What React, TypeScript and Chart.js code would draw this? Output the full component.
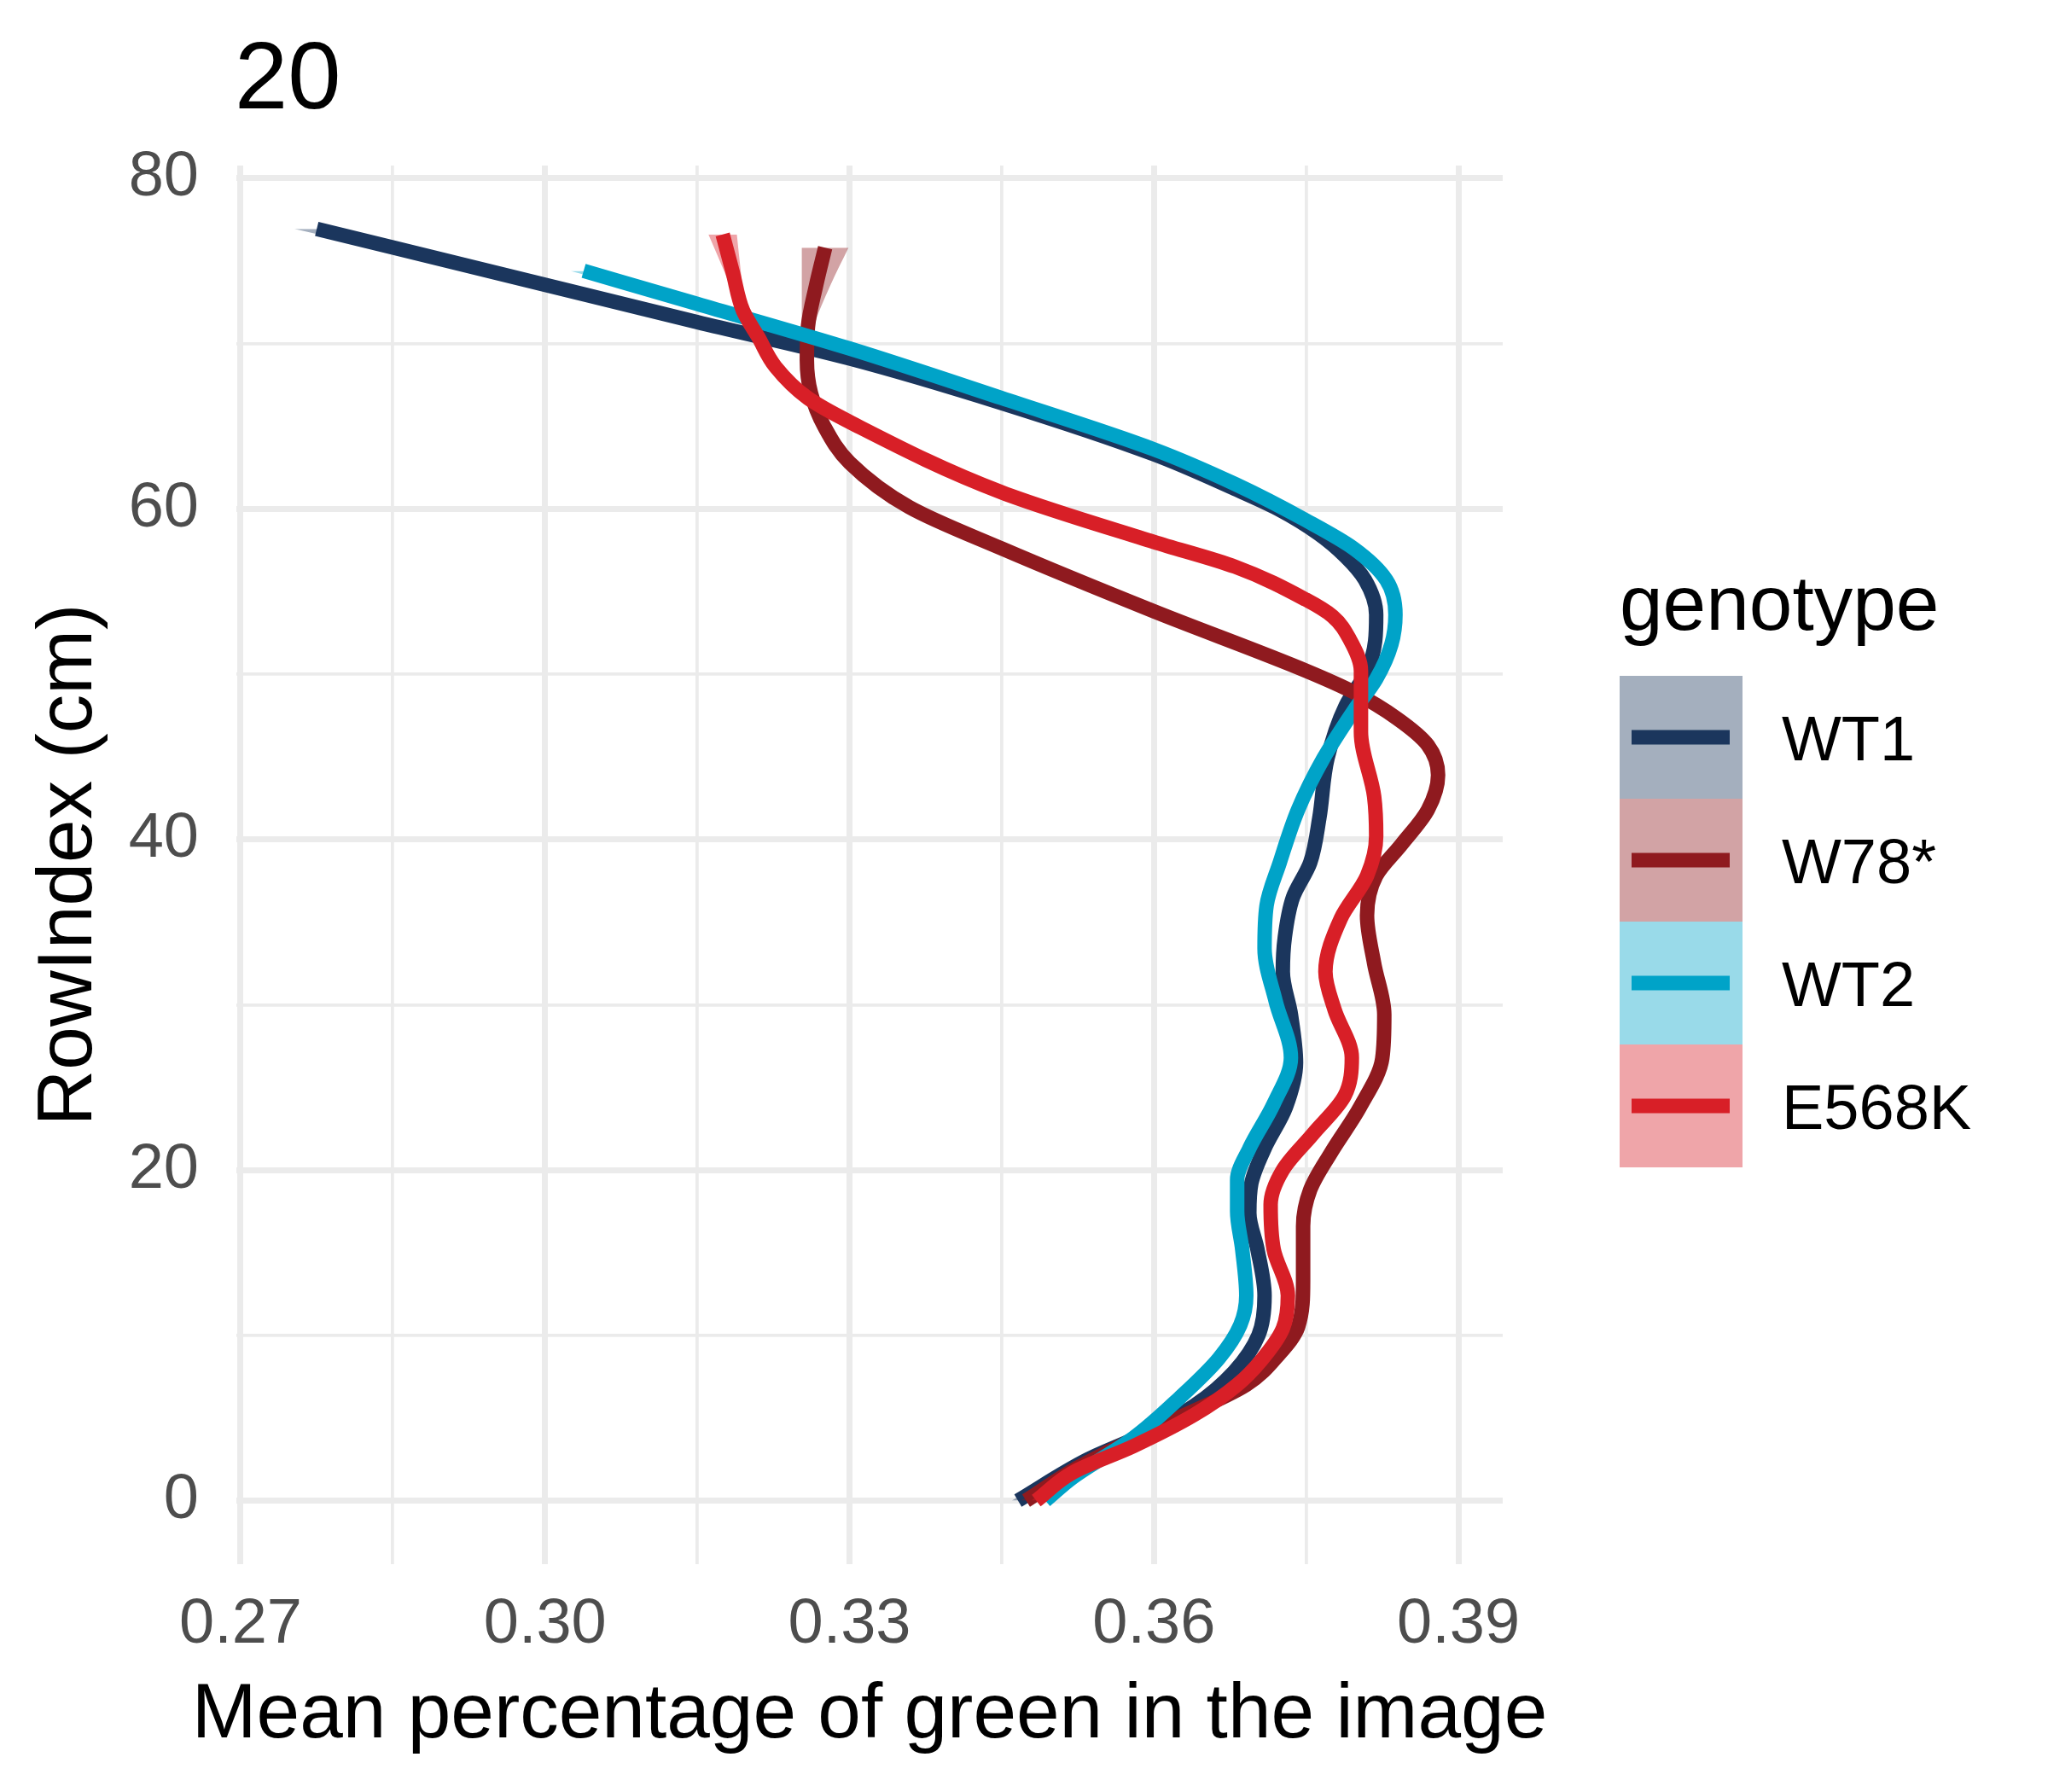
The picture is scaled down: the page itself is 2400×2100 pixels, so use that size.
import { useEffect, useRef } from 'react';
import { Chart, registerables, Plugin } from 'chart.js';

Chart.register(...registerables);

const FONT = '"Liberation Sans", Arial, sans-serif';

const panelTitle = '20';
const xTitle = 'Mean percentage of green in the image';
const yTitle = 'RowIndex (cm)';
const legendTitle = 'genotype';

const genotypes = ['WT1', 'W78*', 'WT2', 'E568K'];
const lineColors = ['#1B365D', '#8F1A1F', '#00A3C8', '#D81F27'];
const bandColors = ['rgba(27,54,93,0.4)', 'rgba(143,26,31,0.4)', 'rgba(0,163,200,0.4)', 'rgba(216,31,39,0.4)'];

// smoothed curves: RowIndex (cm), mean share of green, half-width of the confidence band
const wt1Rows = [0, 2.5, 4.0, 5.75, 7.8, 10.0, 12.4, 15.2, 17.4, 19.2, 21.3, 23.8, 26.5, 29.4, 32.0, 34.1, 36.5, 38.6, 41.3, 44.9, 48.1, 50.2, 52.0, 53.6, 55.7, 57.1, 58.5, 60.0, 61.2, 63.3, 66.4, 69.1, 71.3, 73.55, 76.94];
const wt1Mean = [0.3466, 0.3535, 0.359, 0.364, 0.3679, 0.3703, 0.3709, 0.3702, 0.3694, 0.3696, 0.3709, 0.373, 0.374, 0.3735, 0.3727, 0.3729, 0.3737, 0.3754, 0.3763, 0.3771, 0.3789, 0.381, 0.3818, 0.3819, 0.3808, 0.3789, 0.3762, 0.3722, 0.368, 0.36, 0.345, 0.33, 0.315, 0.3, 0.2775];
const wt1Se = [0.0006, 0.0003, 0.0003, 0.0003, 0.0003, 0.0003, 0.0003, 0.0003, 0.0003, 0.0003, 0.0003, 0.0003, 0.0003, 0.0003, 0.0003, 0.0003, 0.0003, 0.0003, 0.0003, 0.0003, 0.0003, 0.0003, 0.0003, 0.0003, 0.0003, 0.0003, 0.0003, 0.0003, 0.0003, 0.0003, 0.0003, 0.0003, 0.0003, 0.0005, 0.0022];

const w78Rows = [0, 2.0, 4.6, 7.0, 8.9, 10.5, 13.3, 16.6, 18.8, 21.1, 23.8, 26.75, 29.4, 32.5, 35.4, 37.8, 39.7, 41.8, 43.9, 45.7, 47.3, 48.9, 50.2, 53.8, 57.6, 60.1, 62.8, 65.0, 67.0, 69.0, 71.0, 73.5, 75.8];
const w78Mean = [0.3474, 0.3525, 0.361, 0.3691, 0.3724, 0.3742, 0.3747, 0.3747, 0.3754, 0.3775, 0.3803, 0.3825, 0.3827, 0.3817, 0.381, 0.3819, 0.3844, 0.387, 0.388, 0.387, 0.384, 0.3797, 0.375, 0.36, 0.345, 0.3359, 0.33, 0.3275, 0.3262, 0.3258, 0.3259, 0.3267, 0.3276];
const w78Se = [0.0005, 0.0003, 0.0003, 0.0003, 0.0003, 0.0003, 0.0003, 0.0003, 0.0003, 0.0003, 0.0003, 0.0003, 0.0003, 0.0003, 0.0003, 0.0003, 0.0003, 0.0003, 0.0003, 0.0003, 0.0003, 0.0003, 0.0003, 0.0003, 0.0003, 0.0003, 0.0003, 0.0003, 0.0003, 0.0003, 0.0006, 0.0014, 0.0023];

const wt2Rows = [0, 1.4, 3.8, 6.2, 8.6, 10.6, 12.4, 15.2, 17.5, 19.4, 21.3, 24.0, 26.8, 30.2, 33.4, 36.0, 38.6, 41.8, 44.9, 47.8, 49.7, 51.8, 53.6, 55.7, 57.6, 59.3, 61.5, 63.6, 66.7, 69.7, 72.4, 74.4];
const wt2Mean = [0.3493, 0.352, 0.358, 0.3625, 0.3664, 0.3685, 0.3691, 0.3687, 0.3682, 0.3682, 0.3694, 0.3718, 0.3735, 0.372, 0.3709, 0.3711, 0.3724, 0.3742, 0.3767, 0.3797, 0.3819, 0.3834, 0.3838, 0.3829, 0.3797, 0.375, 0.368, 0.36, 0.345, 0.33, 0.315, 0.3038];
const wt2Se = [0.0006, 0.0003, 0.0003, 0.0003, 0.0003, 0.0003, 0.0003, 0.0003, 0.0003, 0.0003, 0.0003, 0.0003, 0.0003, 0.0003, 0.0003, 0.0003, 0.0003, 0.0003, 0.0003, 0.0003, 0.0003, 0.0003, 0.0003, 0.0003, 0.0003, 0.0003, 0.0003, 0.0003, 0.0003, 0.0003, 0.0005, 0.0013];

const e568kRows = [0, 1.7, 3.3, 5.2, 7.0, 8.5, 10.4, 12.4, 15.2, 17.9, 20.0, 22.2, 24.5, 26.8, 29.7, 32.0, 35.2, 37.8, 40.2, 42.6, 46.5, 50.2, 52.1, 53.5, 54.5, 56.5, 58.0, 61.0, 65.2, 66.7, 68.6, 70.4, 72.0, 74.3, 76.6];
const e568kMean = [0.3484, 0.352, 0.358, 0.364, 0.3682, 0.3706, 0.3727, 0.3732, 0.3718, 0.3715, 0.3727, 0.3757, 0.3788, 0.3795, 0.3778, 0.3769, 0.3784, 0.381, 0.3819, 0.3817, 0.3804, 0.3804, 0.3793, 0.3776, 0.375, 0.368, 0.36, 0.345, 0.3302, 0.3259, 0.3227, 0.321, 0.3195, 0.3185, 0.3175];
const e568kSe = [0.0005, 0.0003, 0.0003, 0.0003, 0.0003, 0.0003, 0.0003, 0.0003, 0.0003, 0.0003, 0.0003, 0.0003, 0.0003, 0.0003, 0.0003, 0.0003, 0.0003, 0.0003, 0.0003, 0.0003, 0.0003, 0.0003, 0.0003, 0.0003, 0.0003, 0.0003, 0.0003, 0.0003, 0.0003, 0.0003, 0.0003, 0.0003, 0.0003, 0.0008, 0.0014];

const xTicks = [0.27, 0.285, 0.3, 0.315, 0.33, 0.345, 0.36, 0.375, 0.39];
const xTickLabels = ['0.27', '', '0.30', '', '0.33', '', '0.36', '', '0.39'];
const yTicks = [0, 10, 20, 30, 40, 50, 60, 70, 80];
const yTickLabels = ['0', '', '20', '', '40', '', '60', '', '80'];

const series = [
  { rows: wt1Rows, mean: wt1Mean, se: wt1Se },
  { rows: w78Rows, mean: w78Mean, se: w78Se },
  { rows: wt2Rows, mean: wt2Mean, se: wt2Se },
  { rows: e568kRows, mean: e568kMean, se: e568kSe },
];

// panel title, x-axis title (wider than the panel, so not squeezed) and the genotype key
const titleAndLegend: Plugin<'line'> = {
  id: 'titleAndLegend',
  afterDraw(chart) {
    const { ctx, chartArea } = chart;
    ctx.save();
    ctx.textAlign = 'left';
    ctx.textBaseline = 'alphabetic';
    ctx.fillStyle = '#000000';
    ctx.font = `112px ${FONT}`;
    ctx.fillText(panelTitle, chartArea.left - 2, 127);

    ctx.font = `91px ${FONT}`;
    ctx.textAlign = 'center';
    ctx.fillText(xTitle, (chartArea.left + chartArea.right) / 2, chart.height - 64);
    ctx.textAlign = 'left';

    const left = chartArea.right + 137;
    ctx.fillText(legendTitle, left, 738);

    const key = 144;
    genotypes.forEach((name, i) => {
      const top = 792 + i * key;
      const mid = top + key / 2;
      ctx.fillStyle = bandColors[i];
      ctx.fillRect(left, top, key, key);
      ctx.strokeStyle = lineColors[i];
      ctx.lineWidth = 17;
      ctx.lineCap = 'butt';
      ctx.beginPath();
      ctx.moveTo(left + 14, mid);
      ctx.lineTo(left + 129, mid);
      ctx.stroke();
      ctx.fillStyle = '#000000';
      ctx.font = `74px ${FONT}`;
      ctx.fillText(name, left + 190, mid + 26.5);
    });
    ctx.restore();
  },
};

export default function App() {
  const canvasRef = useRef<HTMLCanvasElement>(null);
  const chartRef = useRef<Chart | null>(null);

  useEffect(() => {
    document.body.style.margin = '0';
    if (!canvasRef.current) return;
    if (chartRef.current) chartRef.current.destroy();

    const datasets: any[] = [];
    series.forEach((s, k) => {
      const order = 8 - 2 * k;
      datasets.push({
        label: genotypes[k] + ' band low',
        data: s.rows.map((r, i) => ({ x: s.mean[i] - s.se[i], y: r })),
        borderColor: 'transparent',
        borderWidth: 0,
        backgroundColor: bandColors[k],
        fill: '+1',
        pointRadius: 0,
        cubicInterpolationMode: 'monotone',
        order,
      });
      datasets.push({
        label: genotypes[k] + ' band high',
        data: s.rows.map((r, i) => ({ x: s.mean[i] + s.se[i], y: r })),
        borderColor: 'transparent',
        borderWidth: 0,
        fill: false,
        pointRadius: 0,
        cubicInterpolationMode: 'monotone',
        order,
      });
      datasets.push({
        label: genotypes[k],
        data: s.rows.map((r, i) => ({ x: s.mean[i], y: r })),
        borderColor: lineColors[k],
        borderWidth: 17,
        borderCapStyle: 'butt',
        borderJoinStyle: 'round',
        fill: false,
        pointRadius: 0,
        cubicInterpolationMode: 'monotone',
        order: order - 1,
      });
    });

    chartRef.current = new Chart(canvasRef.current, {
      type: 'line',
      data: { datasets },
      plugins: [titleAndLegend],
      options: {
        animation: false,
        responsive: false,
        devicePixelRatio: 1,
        indexAxis: 'y',
        layout: { padding: { top: 194, right: 639, left: 0, bottom: 0 } },
        plugins: {
          legend: { display: false },
          tooltip: { enabled: false },
        },
        scales: {
          x: {
            type: 'linear',
            min: 0.26958,
            max: 0.39437,
            afterBuildTicks: (scale: any) => {
              scale.ticks = xTicks.map((value) => ({ value }));
            },
            afterFit: (scale: any) => {
              scale.height = 267;
            },
            border: { display: false },
            grid: {
              color: '#EBEBEB',
              lineWidth: (c: any) => (c.index % 2 === 0 ? 7 : 3.8),
              drawTicks: false,
            },
            ticks: {
              autoSkip: false,
              maxRotation: 0,
              minRotation: 0,
              padding: 27,
              color: '#4D4D4D',
              font: { family: FONT, size: 74 },
              callback: (_v: any, i: number) => xTickLabels[i],
            },
            title: { display: false },
          },
          y: {
            type: 'linear',
            min: -3.846,
            max: 80.77,
            afterBuildTicks: (scale: any) => {
              scale.ticks = yTicks.map((value) => ({ value }));
            },
            afterFit: (scale: any) => {
              scale.width = 277;
            },
            border: { display: false },
            grid: {
              color: '#EBEBEB',
              lineWidth: (c: any) => (c.index % 2 === 0 ? 7 : 3.8),
              drawTicks: false,
            },
            ticks: {
              autoSkip: false,
              padding: 44,
              color: '#4D4D4D',
              font: { family: FONT, size: 74 },
              callback: (_v: any, i: number) => yTickLabels[i],
            },
            title: {
              display: true,
              text: yTitle,
              color: '#000000',
              font: { family: FONT, size: 91 },
              padding: { top: 27, bottom: 0 },
            },
          },
        },
      },
    });

    return () => {
      if (chartRef.current) {
        chartRef.current.destroy();
        chartRef.current = null;
      }
    };
  }, []);

  return (
    <div style={{ width: 2400, height: 2100, background: '#ffffff' }}>
      <canvas ref={canvasRef} width={2400} height={2100} style={{ display: 'block' }}></canvas>
    </div>
  );
}
